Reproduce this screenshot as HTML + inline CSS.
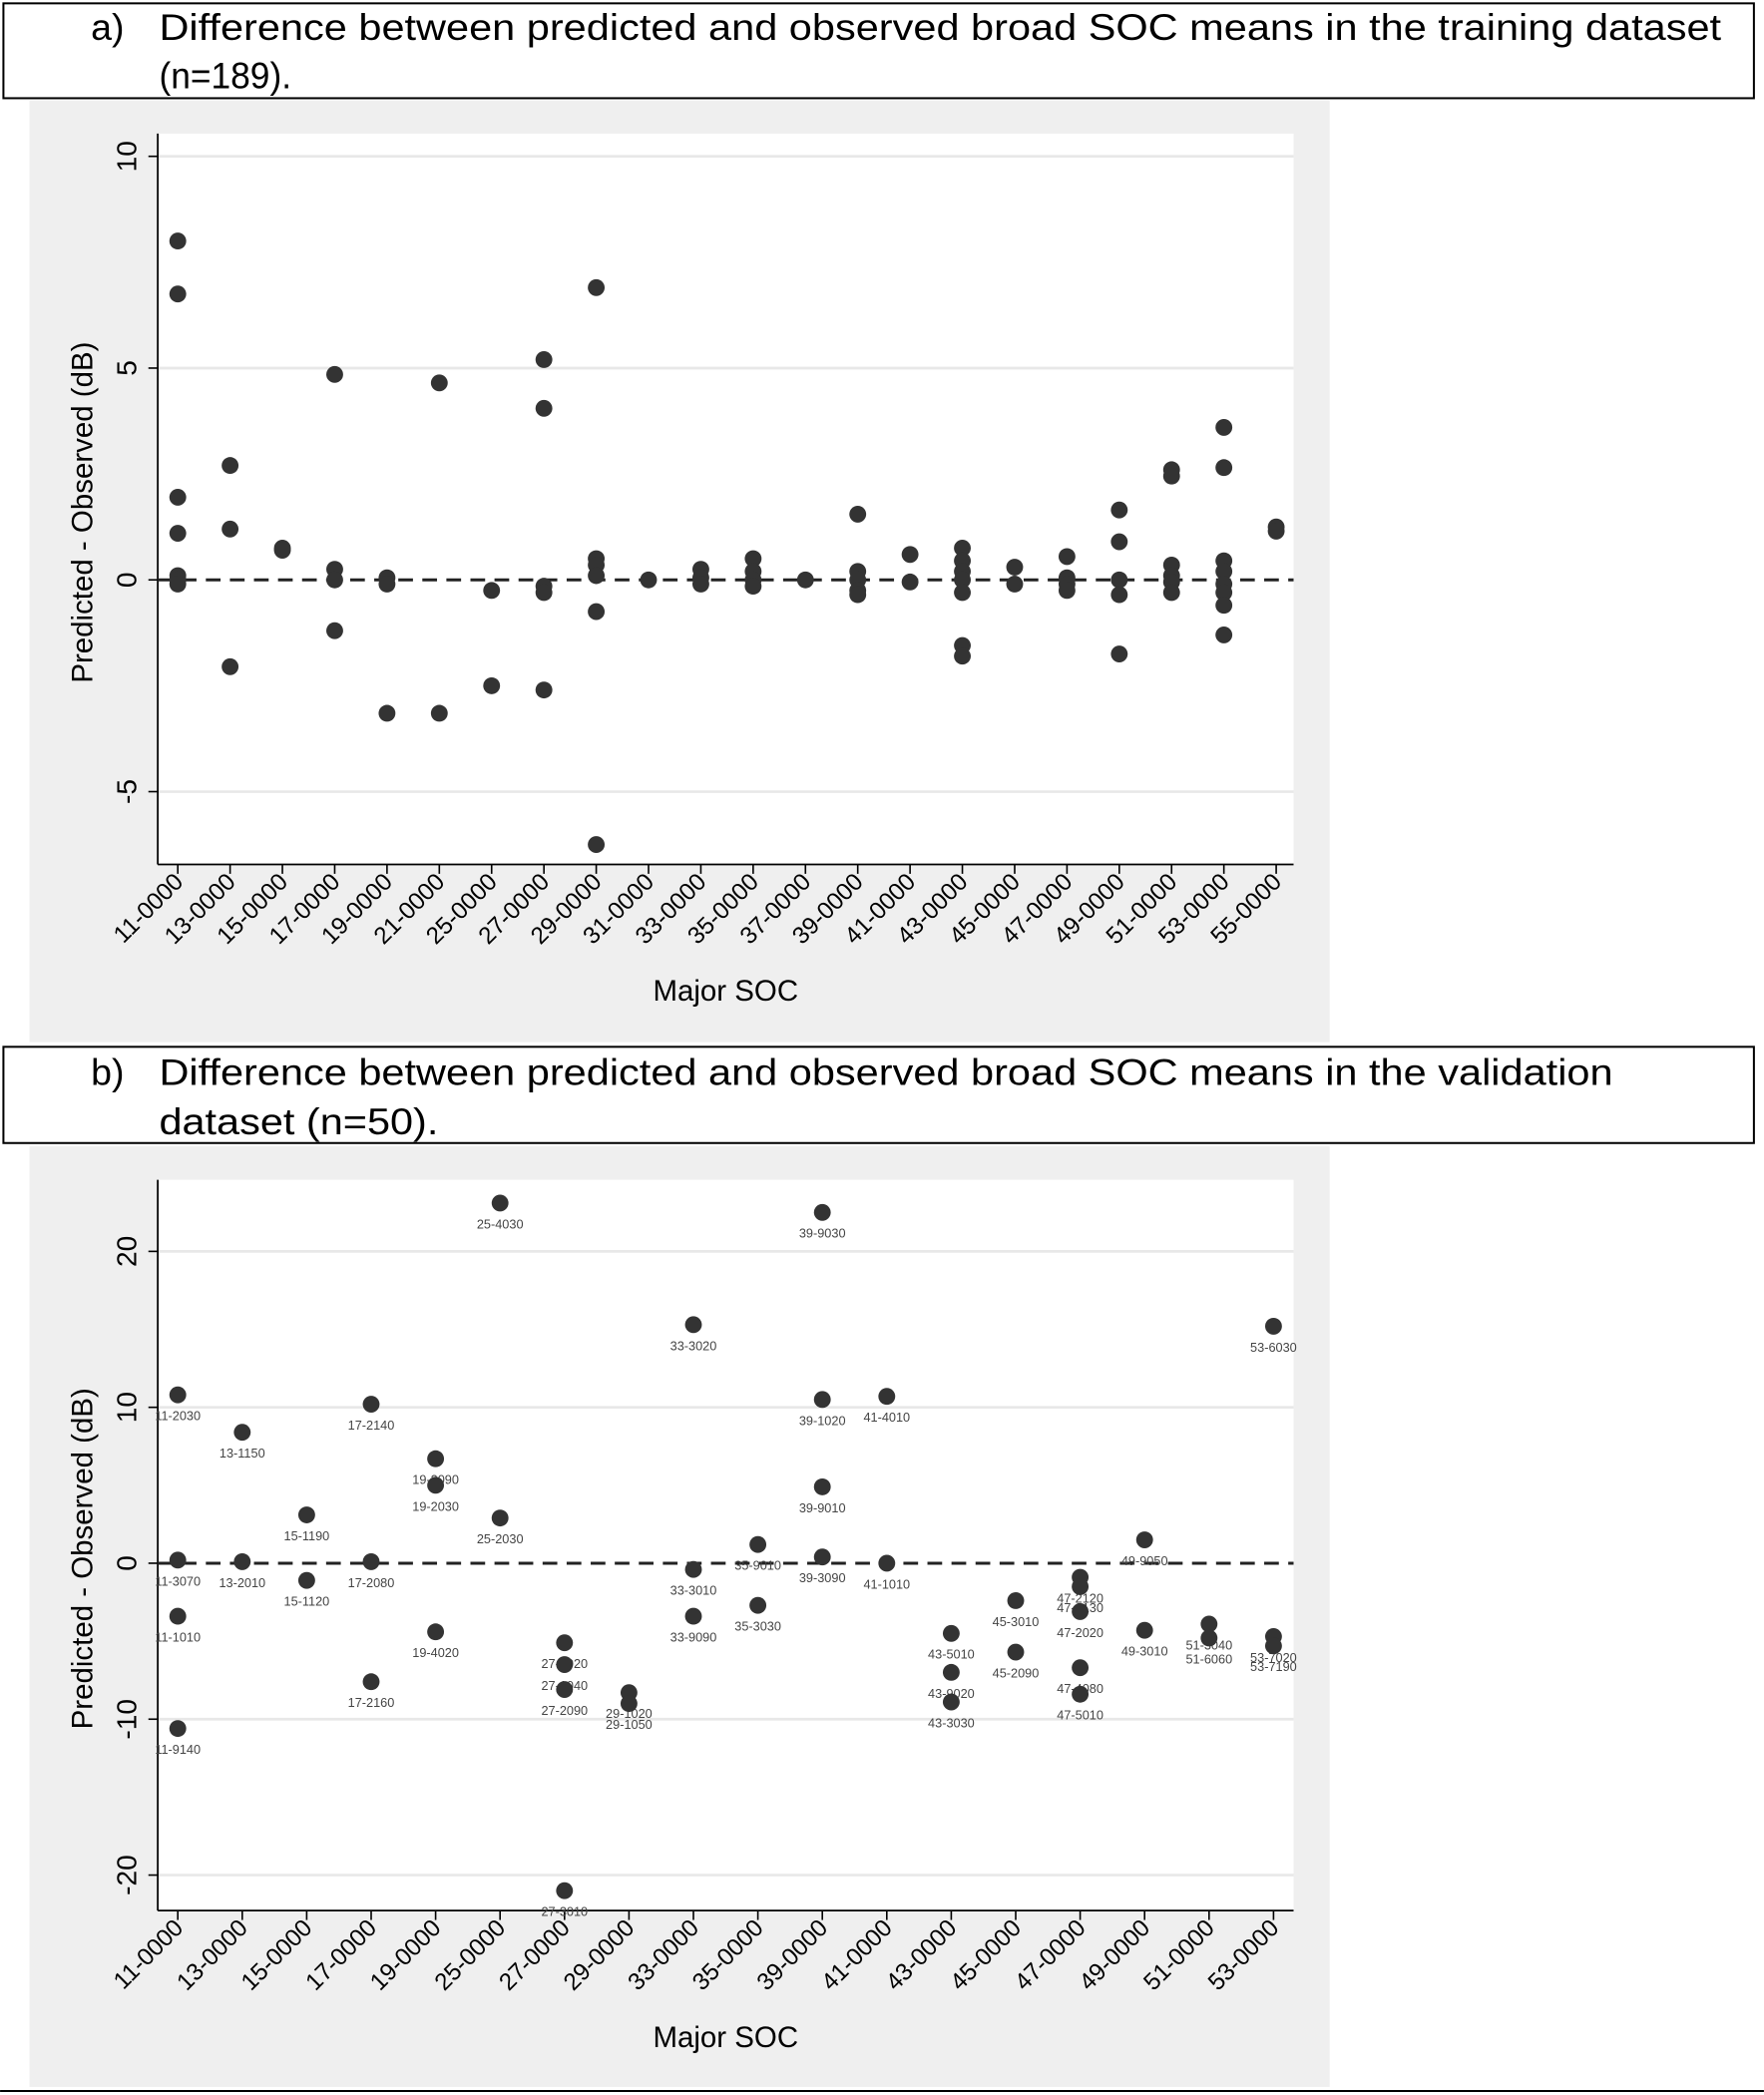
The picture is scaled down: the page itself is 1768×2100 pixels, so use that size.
<!DOCTYPE html>
<html><head><meta charset="utf-8"><style>
html,body{margin:0;padding:0;background:#fff;}
svg{display:block;}
</style></head><body>
<svg id="s" width="1768" height="2100" viewBox="0 0 1320 1568" xmlns="http://www.w3.org/2000/svg" font-family="Liberation Sans, Arial, sans-serif">
<rect x="0" y="0" width="1320" height="1568" fill="#fff"/>
<rect x="2.5" y="2.5" width="1310" height="71" fill="#fff" stroke="#000" stroke-width="1.5"/>
<text x="68" y="30" font-size="28" fill="#000">a)</text>
<text x="119" y="30" font-size="28" fill="#000" textLength="1169" lengthAdjust="spacingAndGlyphs">Difference between predicted and observed broad SOC means in the training dataset</text>
<text x="119" y="66" font-size="28" fill="#000" textLength="99" lengthAdjust="spacingAndGlyphs">(n=189).</text>
<rect x="22" y="75" width="973" height="705" fill="#efefef"/>
<rect x="118" y="100" width="850" height="547" fill="#fff"/>
<rect x="2.5" y="783.5" width="1310" height="72" fill="#fff" stroke="#000" stroke-width="1.5"/>
<text x="68" y="812" font-size="28" fill="#000">b)</text>
<text x="119" y="812" font-size="28" fill="#000" textLength="1088" lengthAdjust="spacingAndGlyphs">Difference between predicted and observed broad SOC means in the validation</text>
<text x="119" y="849" font-size="28" fill="#000" textLength="209" lengthAdjust="spacingAndGlyphs">dataset (n=50).</text>
<rect x="22" y="858" width="973" height="704" fill="#efefef"/>
<rect x="118" y="883" width="850" height="547" fill="#fff"/>
<line x1="0" y1="1565" x2="1320" y2="1565" stroke="#000" stroke-width="1.5"/>
<g id="g"></g>
</svg>
<script>
var NS="http://www.w3.org/2000/svg",G=document.getElementById('g');
function el(t,a,txt){var e=document.createElementNS(NS,t);for(var k in a)e.setAttribute(k,a[k]);if(txt!=null)e.textContent=txt;G.appendChild(e);return e;}
function panel(top,bot,y0,pxu,ticks,cats,x0,step,data,labels){
  ticks.forEach(function(t){var y=y0-t*pxu;
    if(t!==0)el('line',{x1:118,x2:968,y1:y,y2:y,stroke:'#e8e8e8','stroke-width':2});
    el('line',{x1:111,x2:118,y1:y,y2:y,stroke:'#000','stroke-width':1.2});
    el('text',{x:0,y:0,'font-size':21,'text-anchor':'middle',transform:'translate(102,'+y+') rotate(-90)'},String(t));
  });
  el('line',{x1:118,x2:118,y1:top,y2:bot,stroke:'#000','stroke-width':1.3});
  el('line',{x1:118,x2:968,y1:bot,y2:bot,stroke:'#000','stroke-width':1.3});
  el('line',{x1:118,x2:968,y1:y0,y2:y0,stroke:'#222','stroke-width':2.2,'stroke-dasharray':'11,7'});
  cats.forEach(function(c,i){var x=x0+i*step;
    el('line',{x1:x,x2:x,y1:bot,y2:bot+7,stroke:'#000','stroke-width':1.2});
    el('text',{x:0,y:0,'font-size':18,'text-anchor':'end',transform:'translate('+(x+5)+','+(bot+14)+') rotate(-45)'},c+'-0000');
    (data[i]||[]).forEach(function(v,j){var y=y0-v*pxu;
      el('circle',{cx:x,cy:y,r:6.3,fill:'#333'});
      if(labels)el('text',{x:x,y:y+19,'font-size':9.5,'text-anchor':'middle',fill:'#444'},labels[i][j]);
    });
  });
  el('text',{x:543,y:bot+102,'font-size':22,'text-anchor':'middle'},'Major SOC');
  el('text',{x:0,y:0,'font-size':22,'text-anchor':'middle',transform:'translate(69,'+((top+bot)/2+10)+') rotate(-90)'},'Predicted - Observed (dB)');
}
var ca=['11','13','15','17','19','21','25','27','29','31','33','35','37','39','41','43','45','47','49','51','53','55'];
var da=[[8,6.75,1.95,1.1,0.1,0,-0.1],[2.7,1.2,-2.05],[0.75,0.7],[4.85,0.25,0,-1.2],[0.05,-0.1,-3.15],[4.65,-3.15],[-0.25,-2.5],[5.2,4.05,-0.15,-0.3,-2.6],[6.9,0.5,0.35,0.1,-0.75,-6.25],[0],[0.25,0.05,-0.1],[0.5,0.2,0,-0.15],[0],[1.55,0.2,0,-0.25,-0.35],[0.6,-0.05],[0.75,0.45,0.2,0,-0.3,-1.55,-1.8],[0.3,-0.1],[0.55,0.05,-0.1,-0.25],[1.65,0.9,0,-0.35,-1.75],[2.6,2.45,0.35,0.1,-0.05,-0.3],[3.6,2.65,0.45,0.2,-0.1,-0.3,-0.6,-1.3],[1.25,1.15]];
panel(100,647,434,31.7,[10,5,0,-5],ca,133,(955-133)/21,da,null);
var cb=['11','13','15','17','19','25','27','29','33','35','39','41','43','45','47','49','51','53'];
var db=[[10.8,0.2,-3.4,-10.6],[8.4,0.1],[3.1,-1.1],[10.2,0.1,-7.6],[6.7,5.0,-4.4],[23.1,2.9],[-5.1,-6.5,-8.1,-21],[-8.3,-9.0],[15.3,-0.4,-3.4],[1.2,-2.7],[22.5,10.5,4.9,0.4],[10.7,0],[-4.5,-7.0,-8.9],[-2.4,-5.7],[-0.9,-1.5,-3.1,-6.7,-8.4],[1.5,-4.3],[-3.9,-4.8],[15.2,-4.7,-5.3]];
var lb=[['11-2030','11-3070','11-1010','11-9140'],['13-1150','13-2010'],['15-1190','15-1120'],['17-2140','17-2080','17-2160'],['19-2090','19-2030','19-4020'],['25-4030','25-2030'],['27-1020','27-1040','27-2090','27-3010'],['29-1020','29-1050'],['33-3020','33-3010','33-9090'],['35-9010','35-3030'],['39-9030','39-1020','39-9010','39-3090'],['41-4010','41-1010'],['43-5010','43-9020','43-3030'],['45-3010','45-2090'],['47-2120','47-2130','47-2020','47-4080','47-5010'],['49-9050','49-3010'],['51-3040','51-6060'],['53-6030','53-7020','53-7190']];
panel(883,1430,1170,11.67,[20,10,0,-10,-20],cb,133,(953-133)/17,db,lb);
</script>
</body></html>
